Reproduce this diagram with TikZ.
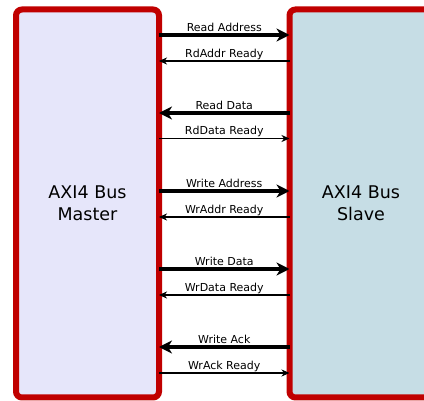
\documentclass[tikz,border=0pt]{standalone}
\usepackage{fontspec}
\setmainfont{DejaVu Sans}
\usetikzlibrary{arrows.meta}
\definecolor{bordred}{RGB}{192,0,0}
\definecolor{mfill}{RGB}{230,230,250}
\definecolor{sfill}{RGB}{198,221,229}
\tikzset{
  busbox/.style={draw=bordred, line width=6pt, rounded corners=6pt, minimum width=143pt, minimum height=388pt, inner sep=0pt, outer sep=0pt, align=center, font=\fontsize{17.5}{22}\selectfont},
  bigarrow/.style={line width=4pt, -{Stealth[length=13pt, width=13pt, inset=4pt]}},
  smallarrow/.style={line width=1.3pt, -{Stealth[length=8pt, width=7pt, inset=2.5pt]}},
  lbl/.style={font=\fontsize{11}{13}\selectfont, inner sep=0pt, anchor=base}
}
\begin{document}
\begin{tikzpicture}[x=1pt, y=-1pt]
\useasboundingbox (0,0) rectangle (424,401);
\begin{scope}
\clip (0,0) rectangle (424,401);
\node[busbox, fill=mfill] (master) at (87.5,203.5) {AXI4 Bus\\Master};
\node[busbox, fill=sfill] (slave) at (361,203.5) {AXI4 Bus\\Slave};
\end{scope}
% Read channel
\draw[bigarrow] (master.east |- 0,35) -- (slave.west |- 0,35)
  node[lbl, midway, yshift=3.5pt] {Read Address};
\draw[smallarrow] (slave.west |- 0,61) -- (master.east |- 0,61)
  node[lbl, midway, yshift=3.5pt] {RdAddr Ready};
\draw[bigarrow] (slave.west |- 0,113) -- (master.east |- 0,113)
  node[lbl, midway, yshift=3.5pt] {Read Data};
\draw[smallarrow] (master.east |- 0,138.5) -- (slave.west |- 0,138.5)
  node[lbl, midway, yshift=3.5pt] {RdData Ready};
% Write channel
\draw[bigarrow] (master.east |- 0,191) -- (slave.west |- 0,191)
  node[lbl, midway, yshift=3.5pt] {Write Address};
\draw[smallarrow] (slave.west |- 0,217) -- (master.east |- 0,217)
  node[lbl, midway, yshift=3.5pt] {WrAddr Ready};
\draw[bigarrow] (master.east |- 0,269) -- (slave.west |- 0,269)
  node[lbl, midway, yshift=3.5pt] {Write Data};
\draw[smallarrow] (slave.west |- 0,295) -- (master.east |- 0,295)
  node[lbl, midway, yshift=3.5pt] {WrData Ready};
\draw[bigarrow] (slave.west |- 0,347) -- (master.east |- 0,347)
  node[lbl, midway, yshift=3.5pt] {Write Ack};
\draw[smallarrow] (master.east |- 0,373) -- (slave.west |- 0,373)
  node[lbl, midway, yshift=3.5pt] {WrAck Ready};
\end{tikzpicture}
\end{document}
